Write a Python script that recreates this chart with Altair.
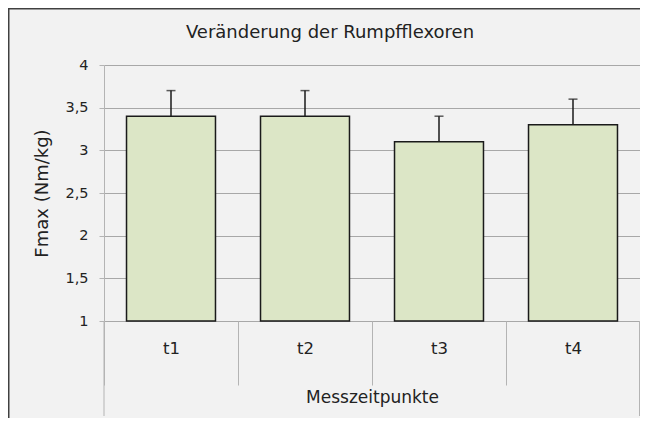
import altair as alt
import pandas as pd

categories = ["t1", "t2", "t3", "t4"]
means = [3.4, 3.4, 3.1, 3.3]
errors = [0.3, 0.3, 0.3, 0.3]
y_ticks = [1, 1.5, 2, 2.5, 3, 3.5, 4]
title_text = "Veränderung der Rumpfflexoren"

df = pd.DataFrame({"t": categories, "mean": means, "err": errors})
df["top"] = df["mean"] + df["err"]

W, H = 536, 256
PAD_L, PAD_T, PAD_R = 96, 57, 0
TOTAL_H = 410
FONT = "DejaVu Sans"
GRAY = "#b4b4b4"
TXT = "#222222"
BLACK = "#1a1a1a"

xscale = alt.Scale(paddingInner=0, paddingOuter=0)
xenc = alt.X(
    "t:N", sort=categories, title="Messzeitpunkte", scale=xscale,
    axis=alt.Axis(
        labelAngle=0, domain=False, ticks=True, tickBand="extent",
        tickSize=64, tickColor=GRAY, tickWidth=1,
        labelPadding=-45, labelFontSize=16.5, labelFont=FONT, labelColor=TXT,
        titleFontSize=17, titleFont=FONT, titleFontWeight="normal",
        titlePadding=4, titleColor=TXT,
    ),
)
yscale = alt.Scale(domain=[1, 4], nice=False, zero=False)
yenc = alt.Y(
    "mean:Q", title="Fmax (Nm/kg)", scale=yscale,
    axis=alt.Axis(
        values=y_ticks,
        labelExpr="replace(format(datum.value, ''), '.', ',')",
        grid=True, gridColor="#a8a8a8", gridWidth=1,
        domainColor=GRAY, domainWidth=1, tickColor=GRAY, tickSize=5,
        labelPadding=11, labelFontSize=14.5, labelFont=FONT, labelColor=TXT,
        titleFontSize=18, titleFont=FONT, titleFontWeight="normal",
        titlePadding=13, titleColor=TXT,
    ),
)

base = alt.Chart(df)
bars = base.mark_bar(
    fill="#dce6c6", stroke=BLACK, strokeWidth=1.5,
    width=alt.RelativeBandSize(0.664),
).encode(x=xenc, y=yenc, y2=alt.datum(1))
err = base.mark_rule(color=BLACK, strokeWidth=1.5).encode(
    x=alt.X("t:N", sort=categories), y=alt.Y("mean:Q"), y2="top:Q"
)
cap = base.mark_tick(color=BLACK, size=9, thickness=1.5).encode(
    x=alt.X("t:N", sort=categories), y=alt.Y("top:Q")
)

one = alt.Chart(pd.DataFrame({"a": [0]}))
left_ext = one.mark_rule(color=GRAY, strokeWidth=1).encode(
    x=alt.value(0), y=alt.value(H), y2=alt.value(TOTAL_H - PAD_T - 2)
)
right_ext = one.mark_rule(color=GRAY, strokeWidth=1).encode(
    x=alt.value(W - 0.5), y=alt.value(H), y2=alt.value(TOTAL_H - PAD_T - 2)
)
border_top = one.mark_rule(color="#404040", strokeWidth=1.5).encode(
    x=alt.value(-PAD_L), x2=alt.value(W + PAD_R),
    y=alt.value(-PAD_T + 0.75),
)
border_left = one.mark_rule(color="#404040", strokeWidth=1.5).encode(
    x=alt.value(-PAD_L + 0.75),
    y=alt.value(-PAD_T), y2=alt.value(TOTAL_H - PAD_T),
)
title = one.mark_text(
    font=FONT, fontSize=18, color=TXT, align="center", baseline="middle"
).encode(x=alt.value(226), y=alt.value(-32), text=alt.value(title_text))

chart = (
    alt.layer(bars, err, cap, left_ext, right_ext, border_top, border_left, title)
    .properties(
        width=W, height=H,
        autosize=alt.AutoSizeParams(type="none"),
        padding={"left": PAD_L, "top": PAD_T, "right": PAD_R,
                 "bottom": TOTAL_H - PAD_T - H},
    )
    .configure(background="#f2f2f2")
    .configure_view(stroke=None)
)

chart.save("out.html", embed_options={"renderer": "svg", "actions": False})
